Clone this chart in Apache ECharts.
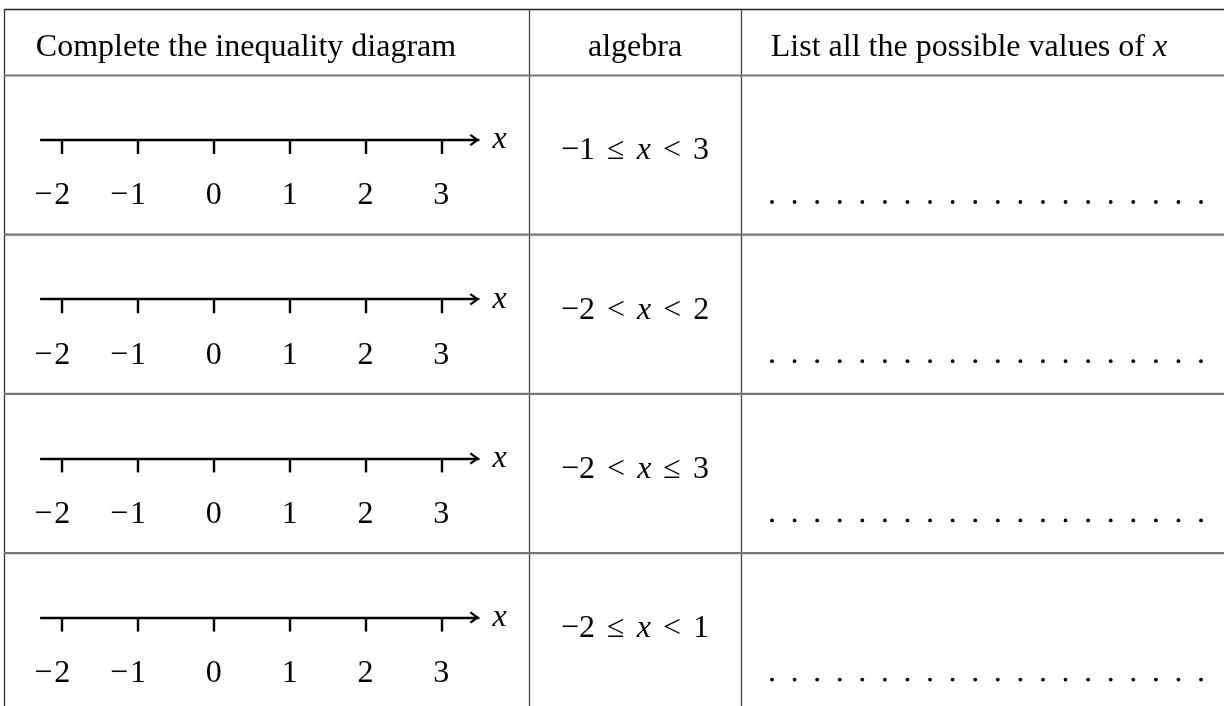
<!DOCTYPE html>
<html>
<head>
<meta charset="utf-8">
<title>Inequality table</title>
<script src="https://cdn.jsdelivr.net/npm/echarts@6/dist/echarts.min.js"></script>
<style>
  html, body { margin: 0; padding: 0; background: #fff; }
  #main { width: 1224px; height: 706px; }
</style>
</head>
<body>
<div id="main"></div>
<script>
// table content
var headers = ['Complete the inequality diagram', 'algebra', 'List all the possible values of '];
var ticks = [-2, -1, 0, 1, 2, 3];
var lowBound = ['−1', '−2', '−2', '−2'];
var lowSign = ['≤', '<', '<', '≤'];
var highSign = ['<', '<', '≤', '<'];
var highBound = ['3', '2', '3', '1'];
var dotCount = 20;

var FONT = '"Liberation Serif", "DejaVu Serif", serif';
var FS = 32;
var rowH = 159.2;
var lineY0 = 140;

var chart = echarts.init(document.getElementById('main'));

var txt = { fontFamily: FONT, fontSize: FS, fill: '#000' };
var txtI = { fontFamily: FONT, fontSize: FS, fontStyle: 'italic', fill: '#000' };
var gap = { width: 12, fontSize: FS };

// chevron arrow head, pointing up (rotated by the axis)
var arrowPath = 'path://M6,0 L12,8.2 L10.5,9.8 L6,3.8 L1.5,9.8 L0,8.2 Z';

var grids = [], xAxes = [], yAxes = [], series = [], graphics = [];

for (var i = 0; i < 4; i++) {
    var ly = lineY0 + i * rowH;
    grids.push({ left: 41, width: 437.4, top: ly - 40, height: 40, outerBoundsMode: 'none' });
    xAxes.push({
        gridIndex: i,
        type: 'value',
        position: 'bottom',
        min: -2.28,
        max: 3.49,
        axisLine: {
            show: true,
            onZero: false,
            symbol: ['none', arrowPath],
            symbolSize: [12, 10],
            symbolOffset: [0, -4],
            lineStyle: { color: '#000', width: 2.4 }
        },
        axisTick: { show: true, customValues: ticks, length: 14, lineStyle: { color: '#000', width: 2.4 } },
        axisLabel: {
            customValues: ticks,
            margin: 40,
            formatter: function (v) {
                if (v < 0) return '{m|−}{d|' + (-v) + '}{s|}';
                return '{d|' + v + '}';
            },
            rich: {
                m: { fontFamily: FONT, fontSize: FS, color: '#000', width: 22, align: 'right' },
                d: { fontFamily: FONT, fontSize: FS, color: '#000' },
                s: { width: 22 }
            }
        },
        splitLine: { show: false },
        name: 'x',
        nameLocation: 'end',
        nameGap: 14,
        nameTextStyle: { fontFamily: FONT, fontSize: FS, fontStyle: 'italic', color: '#000', verticalAlign: 'middle', padding: [0, 0, 2, 0] }
    });
    yAxes.push({ gridIndex: i, type: 'value', show: false, min: 0, max: 1 });
    series.push({ type: 'line', xAxisIndex: i, yAxisIndex: i, data: [], silent: true });

    // algebra cell
    graphics.push({
        type: 'text', x: 635, y: ly + 11,
        style: {
            text: '{r|' + lowBound[i] + '}{g| }{r|' + lowSign[i] + '}{g| }{i|x}{g| }{r|' + highSign[i] + '}{g| }{r|' + highBound[i] + '}',
            rich: { r: txt, i: txtI, g: gap },
            align: 'center', verticalAlign: 'middle'
        }
    });

    // answer dots
    for (var k = 0; k < dotCount; k++) {
        graphics.push({
            type: 'circle',
            shape: { cx: 772 + k * 22.58, cy: ly + 62, r: 1.9 },
            style: { fill: '#000' }
        });
    }
}

// header texts
graphics.push({ type: 'text', x: 246, y: 48, style: { text: headers[0], fontFamily: FONT, fontSize: FS, fill: '#000', align: 'center', verticalAlign: 'middle' } });
graphics.push({ type: 'text', x: 635, y: 48, style: { text: headers[1], fontFamily: FONT, fontSize: FS, fill: '#000', align: 'center', verticalAlign: 'middle' } });
graphics.push({
    type: 'text', x: 969, y: 48,
    style: { text: '{r|' + headers[2] + '}{i|x}', rich: { r: txt, i: txtI }, align: 'center', verticalAlign: 'middle' }
});

// table rules
function rule(x1, y1, x2, y2, color, w) {
    graphics.push({ type: 'line', shape: { x1: x1, y1: y1, x2: x2, y2: y2 }, style: { stroke: color, lineWidth: w } });
}
rule(4.5, 9.5, 1224, 9.5, '#222', 1.3);
rule(4.5, 9, 4.5, 706, '#333', 1.3);
rule(529.5, 9, 529.5, 706, '#444', 1.3);
rule(741.5, 9, 741.5, 706, '#444', 1.3);
rule(4, 75.5, 1224, 75.5, '#777', 2.2);
for (var r = 1; r < 4; r++) {
    var sy = 75.5 + r * rowH;
    rule(4, sy, 1224, sy, '#777', 2.2);
}

chart.setOption({
    backgroundColor: '#fff',
    animation: false,
    grid: grids,
    xAxis: xAxes,
    yAxis: yAxes,
    series: series,
    graphic: graphics
});
</script>
</body>
</html>
